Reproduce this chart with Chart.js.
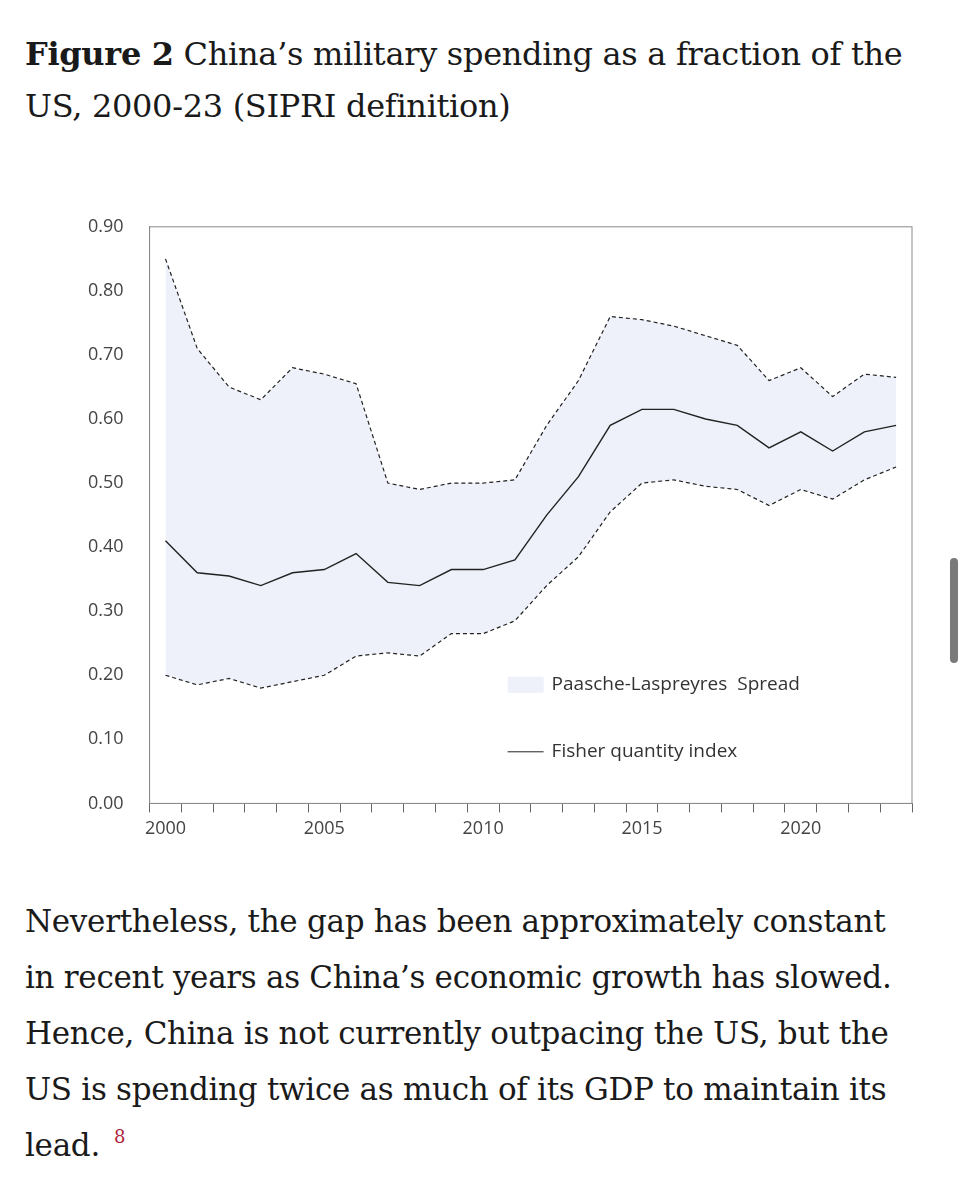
<!DOCTYPE html>
<html><head><meta charset="utf-8">
<script src="https://cdn.jsdelivr.net/npm/chart.js@4/dist/chart.umd.min.js"></script>
<style>
body{margin:0;background:#fff;color:#1a1a1a;font-family:"DejaVu Serif",serif;}
.title{position:absolute;left:25px;top:28px;width:900px;font-size:32px;line-height:52px;letter-spacing:-0.3px;}
.body{position:absolute;left:25px;top:893px;width:880px;font-size:31px;line-height:56px;letter-spacing:-0.3px;}
sup{color:#b0243a;font-size:18px;vertical-align:top;position:relative;top:-8px;left:14px}
#wrap{position:absolute;left:70px;top:198px;width:850px;height:648px;}
#bar{position:absolute;left:950px;top:558px;width:8px;height:105px;border-radius:4px;background:#7a7a7a;}
</style></head><body>
<div class="title"><b>Figure 2</b> China’s military spending as a fraction of the US, 2000-23 (SIPRI definition)</div>
<div id="wrap"><canvas id="chart"></canvas></div>
<div class="body">Nevertheless, the gap has been approximately constant in recent years as China’s economic growth has slowed. Hence, China is not currently outpacing the US, but the US is spending twice as much of its GDP to maintain its lead.<sup>8</sup></div>
<div id="bar"></div>
<script>
const years = ["2000","2001","2002","2003","2004","2005","2006","2007","2008","2009","2010","2011","2012","2013","2014","2015","2016","2017","2018","2019","2020","2021","2022","2023"];
const upper = [0.85,0.71,0.65,0.63,0.68,0.67,0.655,0.50,0.49,0.50,0.50,0.505,0.59,0.66,0.76,0.755,0.745,0.73,0.715,0.66,0.68,0.635,0.67,0.665];
const fisher = [0.41,0.36,0.355,0.34,0.36,0.365,0.39,0.345,0.34,0.365,0.365,0.38,0.45,0.51,0.59,0.615,0.615,0.60,0.59,0.555,0.58,0.55,0.58,0.59];
const lower = [0.20,0.185,0.195,0.18,0.19,0.20,0.23,0.235,0.23,0.265,0.265,0.285,0.34,0.385,0.455,0.50,0.505,0.495,0.49,0.465,0.49,0.475,0.505,0.525];

const tickFont = { family: "'Open Sans', 'Liberation Sans', sans-serif", size: 18 };

// box round the plot + legend inside it
const boxAndLegend = {
  id: "boxAndLegend",
  afterDraw(chart) {
    const { ctx, chartArea: a } = chart;
    ctx.save();
    ctx.strokeStyle = "#8a8a8a";
    ctx.lineWidth = 1;
    ctx.strokeRect(a.left, a.top, a.right - a.left, a.bottom - a.top);
    const lx = a.left + 358, ly1 = a.top + 458, ly2 = a.top + 525;
    ctx.fillStyle = "#eef1f9";
    ctx.fillRect(lx, ly1 - 8, 36, 16);
    ctx.strokeStyle = "#222";
    ctx.beginPath(); ctx.moveTo(lx, ly2); ctx.lineTo(lx + 36, ly2); ctx.stroke();
    ctx.fillStyle = "#333";
    ctx.font = "19px 'Open Sans', 'Liberation Sans', sans-serif";
    ctx.textBaseline = "middle";
    ctx.fillText("Paasche-Laspreyres  Spread", lx + 44, ly1);
    ctx.fillText("Fisher quantity index", lx + 44, ly2);
    ctx.restore();
  }
};

new Chart(document.getElementById("chart").getContext("2d"), {
  type: "line",
  data: {
    labels: years,
    datasets: [
      { label: "upper", data: upper, borderColor: "#222", borderWidth: 1.2, borderDash: [4, 3], pointRadius: 0, fill: { target: 2 }, backgroundColor: "#eef1f9" },
      { label: "Fisher quantity index", data: fisher, borderColor: "#222", borderWidth: 1.4, pointRadius: 0, fill: false },
      { label: "lower", data: lower, borderColor: "#222", borderWidth: 1.2, borderDash: [4, 3], pointRadius: 0, fill: false },
    ],
  },
  options: {
    responsive: true,
    maintainAspectRatio: false,
    animation: false,
    layout: { padding: { right: 8, top: 8 } },
    plugins: { legend: { display: false }, tooltip: { enabled: false }, filler: { drawTime: "beforeDatasetsDraw" } },
    scales: {
      x: {
        offset: true,
        grid: { display: true, drawOnChartArea: false, offset: true, tickLength: 9, color: "#666" },
        border: { color: "#8a8a8a" },
        ticks: { autoSkip: false, maxRotation: 0, color: "#444", font: tickFont, padding: 6,
          callback: function (v, i) { return i % 5 === 0 ? years[i] : ""; } },
      },
      y: {
        min: 0, max: 0.9,
        grid: { display: false },
        border: { color: "#8a8a8a" },
        ticks: { stepSize: 0.1, color: "#444", font: tickFont, padding: 18, callback: (v) => v.toFixed(2) },
      },
    },
  },
  plugins: [boxAndLegend],
});
</script>
</body></html>
